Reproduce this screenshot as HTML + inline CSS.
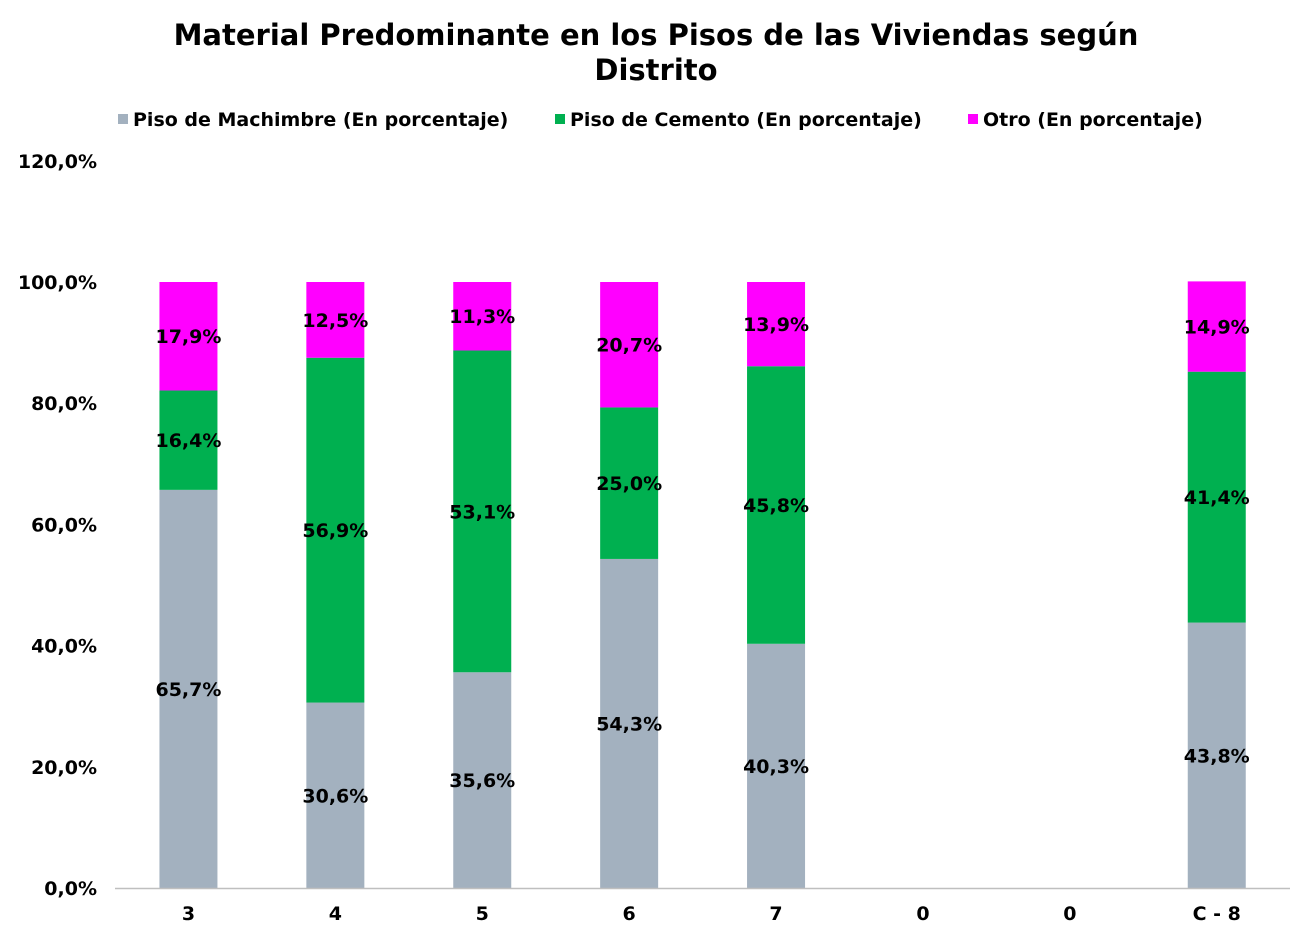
<!DOCTYPE html>
<html><head><meta charset="utf-8">
<style>
html,body{margin:0;padding:0;background:#fff;}
body{width:1312px;height:937px;overflow:hidden;font-family:"DejaVu Sans","Liberation Sans",sans-serif;}
svg text{font-family:"DejaVu Sans","Liberation Sans",sans-serif;font-weight:bold;}
</style></head>
<body>
<svg id="chart" width="1312" height="937" xmlns="http://www.w3.org/2000/svg">
<text x="656" y="45" text-anchor="middle" font-size="29">Material Predominante en los Pisos de las Viviendas según</text>
<text x="656" y="80" text-anchor="middle" font-size="29">Distrito</text>
<g>
<rect x="118" y="114" width="10" height="10" fill="#a3b1bf"/>
<text x="133" y="126" font-size="19">Piso de Machimbre (En porcentaje)</text>
<rect x="555" y="114" width="10" height="10" fill="#00b050"/>
<text x="570" y="126" font-size="19">Piso de Cemento (En porcentaje)</text>
<rect x="968" y="114" width="10" height="10" fill="#ff00ff"/>
<text x="983" y="126" font-size="19">Otro (En porcentaje)</text>
</g>
<g id="yaxis"></g>
<g id="bars"></g>
<g id="xaxis"></g>
</svg>
<script>
const categories = ["3","4","5","6","7","0","0","C - 8"];
const machimbre = [65.7,30.6,35.6,54.3,40.3,0,0,43.8];
const cemento = [16.4,56.9,53.1,25.0,45.8,0,0,41.4];
const otro = [17.9,12.5,11.3,20.7,13.9,0,0,14.9];
const yTicks = [0,20,40,60,80,100,120];
const seriesNames = ["machimbre","cemento","otro"];
const seriesColors = ["#a3b1bf","#00b050","#ff00ff"];

const NS="http://www.w3.org/2000/svg";
const y0=888, pxPer=6.06, xStart=115, slot=146.9, barW=58;
function yScale(v){return y0 - v*pxPer;}
function xCenter(i){return xStart + slot*(i+0.5);}
function mk(tag,attrs,parent){const e=document.createElementNS(NS,tag);for(const k in attrs)e.setAttribute(k,attrs[k]);parent.appendChild(e);return e;}
function fmt(v){return v.toFixed(1).replace('.',',')+'%';}

const ya=document.getElementById('yaxis');
yTicks.forEach(t=>{
  const el=mk('text',{x:97,y:yScale(t)+7,'text-anchor':'end','font-size':19},ya);
  
  
  el.textContent=fmt(t);
});

const bars=document.getElementById('bars');
const all=[machimbre,cemento,otro];
categories.forEach((c,i)=>{
  let base=0;
  all.forEach((s,si)=>{
    const v=s[i];
    if(v>0){
      const r=mk('rect',{x:xCenter(i)-barW/2,y:yScale(base+v),width:barW,height:v*pxPer,fill:seriesColors[si]},bars);
      
      
      const t=mk('text',{x:xCenter(i),y:yScale(base+v/2)+7,'text-anchor':'middle','font-size':19},bars);
      
      
      t.textContent=fmt(v);
    }
    base+=v;
  });
});

const xa=document.getElementById('xaxis');
const ln=mk('line',{x1:xStart,x2:1290,y1:y0+0.5,y2:y0+0.5,stroke:'#bfbfbf','stroke-width':1.5},xa);


categories.forEach((c,i)=>{
  const t=mk('text',{x:xCenter(i),y:920,'text-anchor':'middle','font-size':19},xa);
  
  
  t.textContent=c;
});
</script>
</body></html>
